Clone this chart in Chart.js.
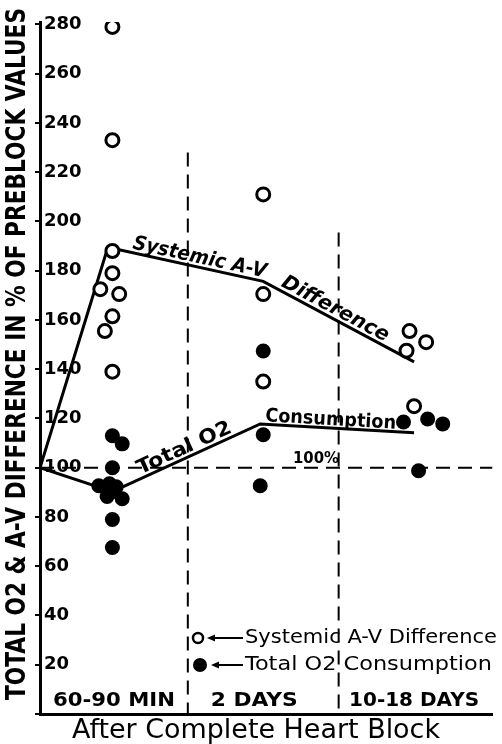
<!DOCTYPE html>
<html>
<head>
<meta charset="utf-8">
<script src="https://cdn.jsdelivr.net/npm/chart.js@4.4.1/dist/chart.umd.min.js"></script>
<style>
  html, body { margin: 0; padding: 0; background: #fff; }
  #wrap { width: 502px; height: 744px; position: relative; }
</style>
</head>
<body>
<div id="wrap"><canvas id="chart"></canvas></div>
<script>
// ========================
// DATA
// ========================
const categories = ['60-90 MIN', '2 DAYS', '10-18 DAYS'];
const categoryPos = [0.49, 1.42, 2.48];
const yTickStep = 20;

// open circles: systemic A-V difference
const avX = [0.48, 0.48, 0.48, 0.48, 0.40, 0.525, 0.48, 0.43, 0.48, 1.48, 1.48, 1.48, 2.45, 2.56, 2.43, 2.48];
const avY = [279, 233, 188, 179, 172.5, 170.5, 161.5, 155.5, 139, 211, 170.5, 135, 155.5, 151, 147.5, 125];

// filled circles: total O2 consumption
const o2X = [0.48, 0.545, 0.48, 0.39, 0.46, 0.505, 0.445, 0.545, 0.48, 0.48, 0.48, 1.48, 1.48, 1.46, 2.41, 2.57, 2.67, 2.51];
const o2Y = [113, 109.7, 100, 92.7, 93.5, 92.3, 88.3, 87.4, 90.3, 79, 67.6, 147.4, 113.4, 92.7, 118.6, 119.8, 117.8, 98.8];

// trend lines
const avLineX = [0, 0.45, 1.48, 2.48];
const avLineY = [100, 189.5, 175.7, 143];
const o2LineX = [0, 0.48, 1.46, 2.48];
const o2LineY = [100, 90.3, 117.8, 114.2];

// section dividers and 100% reference
const dividerX = [0.98, 1.98];
const dividerTop = [228, 195.5];
const refLevel = 100;

const pts = (xs, ys) => xs.map((x, i) => ({ x: x, y: ys[i] }));

// ========================
// TEXT HELPERS
// ========================
function fitText(ctx, text, x, y, w, font, align) {
    ctx.save();
    ctx.font = font;
    const m = ctx.measureText(text).width;
    ctx.translate(x, y);
    ctx.scale(w / m, 1);
    ctx.textBaseline = 'middle';
    ctx.fillText(text, align === 'center' ? -m / 2 : 0, 0);
    ctx.restore();
}

function segText(chart, text, xs, ys, i, t, off, w, font) {
    const sx = chart.scales.x, sy = chart.scales.y, ctx = chart.ctx;
    const x1 = sx.getPixelForValue(xs[i]), y1 = sy.getPixelForValue(ys[i]);
    const x2 = sx.getPixelForValue(xs[i + 1]), y2 = sy.getPixelForValue(ys[i + 1]);
    const ang = Math.atan2(y2 - y1, x2 - x1);
    ctx.save();
    ctx.font = font;
    const m = ctx.measureText(text).width;
    ctx.translate(x1 + (x2 - x1) * t, y1 + (y2 - y1) * t);
    ctx.rotate(ang);
    ctx.scale(w / m, 1);
    ctx.textBaseline = 'alphabetic';
    ctx.fillText(text, 0, -off);
    ctx.restore();
}

const labelsPlugin = {
    id: 'labels',
    afterDraw(chart) {
        const ctx = chart.ctx, sx = chart.scales.x, sy = chart.scales.y;
        ctx.fillStyle = '#000';

        // y title
        ctx.save();
        ctx.translate(18, 354);
        ctx.rotate(-Math.PI / 2);
        fitText(ctx, 'TOTAL O2 & A-V DIFFERENCE IN % OF PREBLOCK VALUES', 0, 0, 692, 'bold 26px "DejaVu Sans"', 'center');
        ctx.restore();

        // x title
        fitText(ctx, 'After Complete Heart Block', 256, 731, 368, '26px "DejaVu Sans"', 'center');

        // category labels
        const catW = [122, 87, 130];
        categories.forEach((c, i) => {
            fitText(ctx, c, sx.getPixelForValue(categoryPos[i]), 701, catW[i], 'bold 19px "DejaVu Sans"', 'center');
        });

        // line labels
        segText(chart, 'Systemic A-V', avLineX, avLineY, 1, 0.15, 4, 136, 'italic bold 20px "DejaVu Sans"');
        segText(chart, 'Difference', avLineX, avLineY, 2, 0.1, 4, 119, 'italic bold 20px "DejaVu Sans"');
        segText(chart, 'Total O2', o2LineX, o2LineY, 1, 0.2, 4, 102, 'bold 20px "DejaVu Sans"');
        segText(chart, 'Consumption', o2LineX, o2LineY, 2, 0.03, 3, 131, 'bold 19px "DejaVu Sans"');

        // 100% mark
        fitText(ctx, '100%', 316, sy.getPixelForValue(refLevel) - 9, 46, 'bold 16px "DejaVu Sans"', 'center');

        // legend
        ctx.save();
        ctx.strokeStyle = '#000';
        ctx.lineWidth = 2.5;
        ctx.beginPath();
        ctx.arc(198, 638, 5, 0, Math.PI * 2);
        ctx.stroke();
        ctx.beginPath();
        ctx.arc(200, 665, 7, 0, Math.PI * 2);
        ctx.fill();
        [[207, 638], [211, 665]].forEach(([x0, y0]) => {
            ctx.lineWidth = 2;
            ctx.beginPath();
            ctx.moveTo(x0 + 4, y0);
            ctx.lineTo(243, y0);
            ctx.stroke();
            ctx.beginPath();
            ctx.moveTo(x0, y0);
            ctx.lineTo(x0 + 8, y0 - 3.5);
            ctx.lineTo(x0 + 8, y0 + 3.5);
            ctx.closePath();
            ctx.fill();
        });
        ctx.restore();
        fitText(ctx, 'Systemic A-V Difference', 245, 638, 252, '19px "DejaVu Sans"', 'left');
        fitText(ctx, 'Total O2 Consumption', 245, 665, 247, '19px "DejaVu Sans"', 'left');
    }
};

// ========================
// CHART
// ========================
const lineStyle = { type: 'line', borderColor: '#000', borderWidth: 3, pointRadius: 0, fill: false, tension: 0, order: 2 };
const dashStyle = { type: 'line', borderColor: '#000', borderWidth: 2, borderDash: [14, 8], pointRadius: 0, fill: false, order: 3 };

new Chart(document.getElementById('chart'), {
    type: 'scatter',
    data: {
        datasets: [
            { ...lineStyle, data: pts(avLineX, avLineY) },
            { ...lineStyle, data: pts(o2LineX, o2LineY) },
            { ...dashStyle, data: [{ x: dividerX[0], y: dividerTop[0] }, { x: dividerX[0], y: 0 }] },
            { ...dashStyle, data: [{ x: dividerX[1], y: dividerTop[1] }, { x: dividerX[1], y: 0 }] },
            { ...dashStyle, data: [{ x: 0, y: refLevel }, { x: 3, y: refLevel }] },
            {
                label: 'Systemic A-V Difference',
                data: pts(avX, avY),
                pointStyle: 'circle',
                pointRadius: 6.5,
                pointBorderWidth: 3,
                pointBorderColor: '#000',
                pointBackgroundColor: '#fff',
                order: 1
            },
            {
                label: 'Total O2 Consumption',
                data: pts(o2X, o2Y),
                pointStyle: 'circle',
                pointRadius: 7.5,
                pointBorderWidth: 0,
                pointBackgroundColor: '#000',
                order: 0
            }
        ]
    },
    options: {
        responsive: true,
        maintainAspectRatio: false,
        animation: false,
        layout: { padding: { top: 22, right: 5, left: 0, bottom: 0 } },
        plugins: {
            legend: { display: false },
            tooltip: { enabled: false }
        },
        scales: {
            x: {
                type: 'linear',
                min: 0,
                max: 3,
                ticks: { display: false },
                grid: { display: false },
                border: { display: true, color: '#000', width: 3 },
                afterFit: s => { s.height = 30; }
            },
            y: {
                min: 0,
                max: 281,
                ticks: {
                    stepSize: yTickStep,
                    includeBounds: false,
                    mirror: true,
                    padding: 4,
                    color: '#000',
                    font: { family: '"DejaVu Sans"', weight: 'bold', size: 18 },
                    callback: v => (v === 0 ? '' : v)
                },
                grid: { display: true, drawOnChartArea: false, tickLength: 5, color: '#000', lineWidth: 2 },
                border: { display: true, color: '#000', width: 3 },
                afterFit: s => { s.width = 40; }
            }
        }
    },
    plugins: [labelsPlugin]
});
</script>
</body>
</html>
